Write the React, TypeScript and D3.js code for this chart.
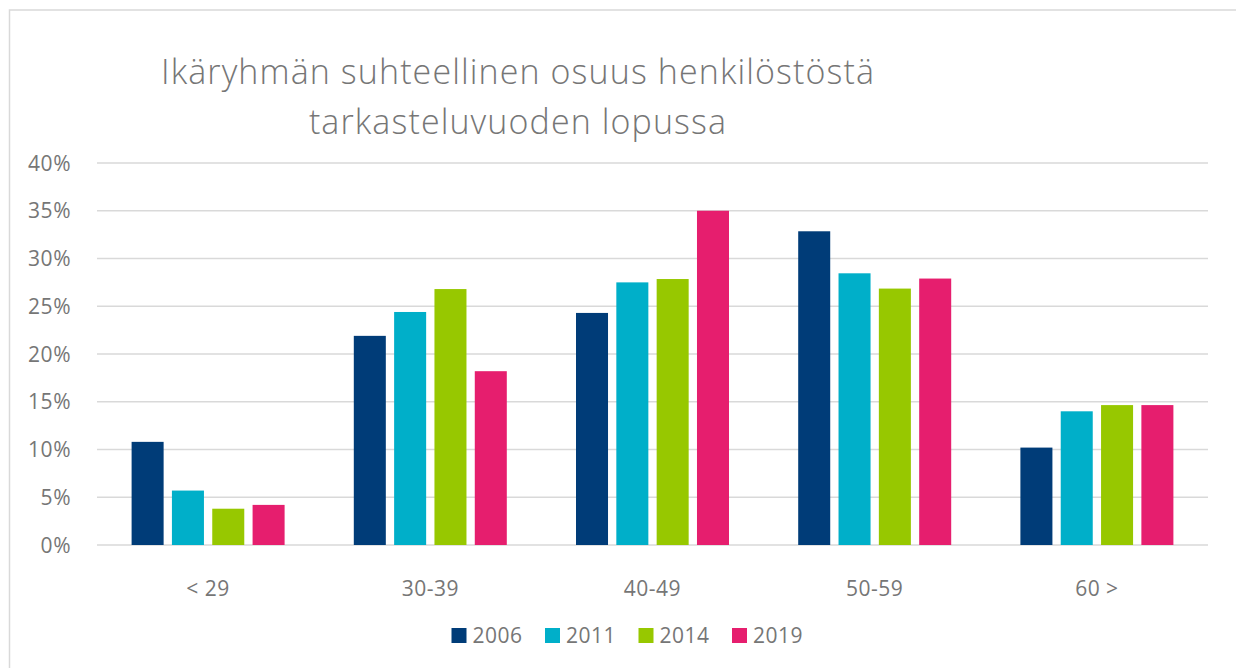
import React from "react";
import * as d3 from "d3";

const categories = ["< 29", "30-39", "40-49", "50-59", "60 >"];
const years = ["2006", "2011", "2014", "2019"];
const v2006 = [10.8, 21.9, 24.3, 32.85, 10.2];
const v2011 = [5.7, 24.4, 27.5, 28.45, 14.0];
const v2014 = [3.8, 26.8, 27.85, 26.85, 14.65];
const v2019 = [4.2, 18.2, 35.0, 27.9, 14.65];
const yTicks = [0, 5, 10, 15, 20, 25, 30, 35, 40];
const colors = ["#003C78", "#00AFC9", "#97C800", "#E61E6E"];
const titleLines = ["Ikäryhmän suhteellinen osuus henkilöstöstä", "tarkasteluvuoden lopussa"];

const W = 1236;
const H = 668;
const FONT = "'Open Sans', 'Noto Sans', sans-serif";
const GREY = "#767676";

export default function App() {
  const series = [v2006, v2011, v2014, v2019];
  const left = 97, right = 1208, top = 163, bottom = 545;
  const x = d3.scaleBand<string>().domain(categories).range([left, right]).padding(0);
  const groupPad = 34.6;
  const inner = d3
    .scaleBand<string>()
    .domain(years)
    .range([groupPad, x.bandwidth() - groupPad])
    .paddingInner(0.206)
    .paddingOuter(0);
  const y = d3.scaleLinear().domain([0, 40]).range([bottom, top]);

  const legendX = d3.scaleLinear().domain([0, years.length - 1]).range([451.5, 732]);

  return (
    <svg
      width={W}
      height={H}
      style={{ position: "absolute", left: 0, top: 0, background: "#fff" }}
      fontFamily={FONT}
    >
      <rect x={9.5} y={10} width={W + 20} height={H + 20} fill="#fff" stroke="#d9d9d9" strokeWidth={1.5} />
      {titleLines.map((t, i) => (
        <text
          key={i}
          x={518}
          y={84 + i * 50}
          textAnchor="middle"
          fontSize={34}
          fontWeight={300}
          letterSpacing={1.1}
          fill={GREY}
        >
          {t}
        </text>
      ))}
      {yTicks.map((t) => (
        <g key={t}>
          <line x1={left} x2={right} y1={y(t)} y2={y(t)} stroke="#d9d9d9" strokeWidth={1.5} />
          <text x={71} y={y(t) + 7.5} textAnchor="end" fontSize={21} letterSpacing={0.5} fill={GREY}>
            {t}%
          </text>
        </g>
      ))}
      {categories.map((c, ci) => (
        <g key={c} transform={`translate(${x(c)},0)`}>
          {years.map((yr, si) => (
            <rect
              key={yr}
              x={inner(yr)}
              y={y(series[si][ci])}
              width={inner.bandwidth()}
              height={y(0) - y(series[si][ci])}
              fill={colors[si]}
            />
          ))}
          <text x={x.bandwidth() / 2} y={595.5} textAnchor="middle" fontSize={21} letterSpacing={0.5} fill={GREY}>
            {c}
          </text>
        </g>
      ))}
      {years.map((yr, i) => (
        <g key={yr} transform={`translate(${legendX(i)},628)`}>
          <rect x={0} y={0} width={15} height={15} fill={colors[i]} />
          <text x={21} y={15} fontSize={21} letterSpacing={0.5} fill={GREY}>
            {yr}
          </text>
        </g>
      ))}
    </svg>
  );
}
